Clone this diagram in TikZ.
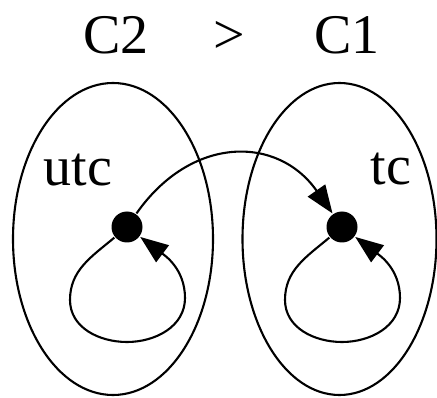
\documentclass[tikz,border=0pt]{standalone}
\usepackage{fontspec}
\setmainfont{Liberation Serif}
\usetikzlibrary{arrows.meta}
\begin{document}
\begin{tikzpicture}[x=1pt,y=1pt, line width=2.1pt,
  lbl/.style={font=\fontsize{56}{56}\selectfont, anchor=base, inner sep=0pt},
  dot/.style={circle, fill=black, inner sep=0pt, minimum size=31pt},
  tip/.style={-{Triangle[length=28pt,width=21pt]}},
  cls/.style={draw=black}]
\useasboundingbox (0,0) rectangle (437,397);
% clusters
\draw[cls] (113,158) ellipse [x radius=100, y radius=156];
\draw[cls] (339.5,158) ellipse [x radius=97, y radius=156];
% labels
\node[lbl] (c2) at (116,343) {C2};
\node[lbl] (gt) at (229,343) {>};
\node[lbl] (c1) at (347,343) {C1};
\node[lbl] (utc) at (78,211) {utc};
\node[lbl] (tc) at (391,212) {tc};
% nodes
\node[dot] (ld) at (127,170) {};
\node[dot] (rd) at (342,170) {};
% loop coordinates
\coordinate (ll) at (70,97);
\coordinate (lb) at (127,55);
\coordinate (lr) at (185,99);
\coordinate (rl) at (285,97);
\coordinate (rb) at (342,55);
\coordinate (rr) at (400,99);
% edges
\draw[tip] (ld) to[out=55,in=125,looseness=1.25] (rd);
\draw[tip] (ld) to[out=220,in=90] (ll) to[out=-90,in=180] (lb)
  to[out=0,in=-90] (lr) to[out=90,in=-37] (ld);
\draw[tip] (rd) to[out=220,in=90] (rl) to[out=-90,in=180] (rb)
  to[out=0,in=-90] (rr) to[out=90,in=-37] (rd);
\end{tikzpicture}
\end{document}
